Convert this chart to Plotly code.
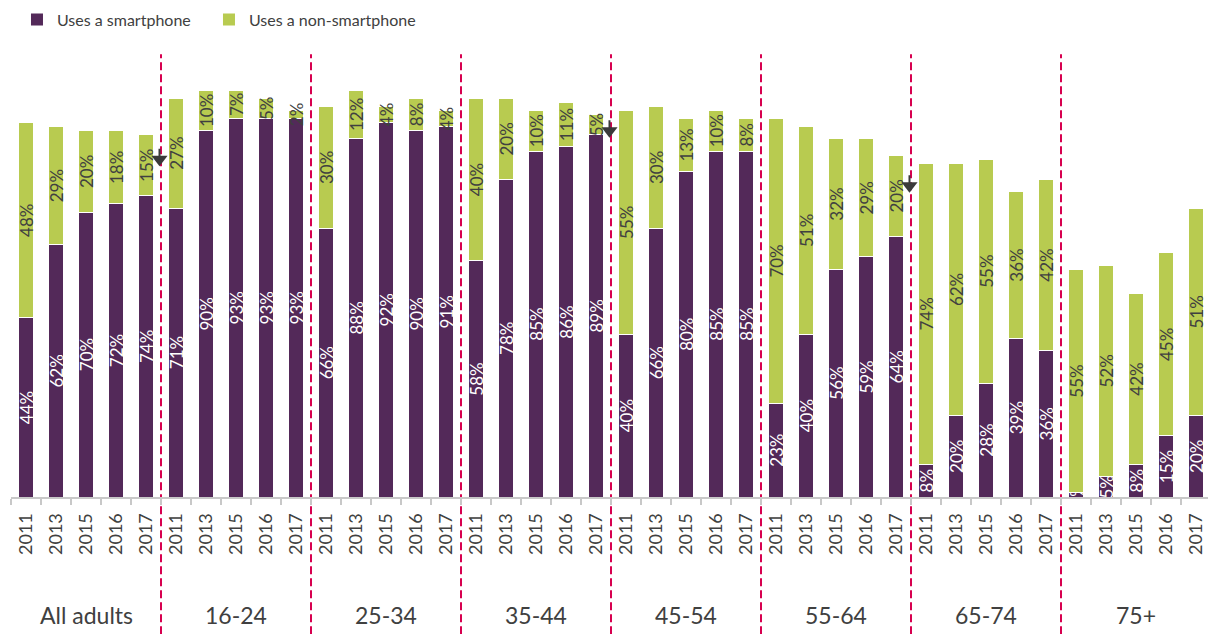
import plotly.graph_objects as go

# -------------------------
# DATA
# -------------------------
groups = ["All adults", "16-24", "25-34", "35-44", "45-54", "55-64", "65-74", "75+"]
years = ["2011", "2013", "2015", "2016", "2017"]

smartphone = [
    44, 62, 70, 72, 74,
    71, 90, 93, 93, 93,
    66, 88, 92, 90, 91,
    58, 78, 85, 86, 89,
    40, 66, 80, 85, 85,
    23, 40, 56, 59, 64,
    8, 20, 28, 39, 36,
    1, 5, 8, 15, 20,
]
non_smartphone = [
    48, 29, 20, 18, 15,
    27, 10, 7, 5, 2,
    30, 12, 4, 8, 4,
    40, 20, 10, 11, 5,
    55, 30, 13, 10, 8,
    70, 51, 32, 29, 20,
    74, 62, 55, 36, 42,
    55, 52, 42, 45, 51,
]

# significant-decrease markers: (group index, level in %)
arrow_groups = [0, 3, 5]
arrow_levels = [83, 90, 76.5]

PURPLE = "#532959"
GREEN = "#B8CB50"
GREY_TEXT = "#404040"
ARROW = "#3A3A3A"
RED = "#D7004F"
FONT = "Lato"

n_years = len(years)
x_pos = list(range(len(groups) * n_years))
tick_text = years * len(groups)

fig = go.Figure()

fig.add_trace(
    go.Bar(
        x=x_pos,
        y=smartphone,
        width=0.47,
        marker=dict(color=PURPLE, line=dict(color="white", width=1)),
        text=[f"{v}%" for v in smartphone],
        textposition="inside",
        insidetextanchor="middle",
        textangle=-90,
        constraintext="none",
        textfont=dict(family=FONT, size=17, color="white"),
        showlegend=False,
        hoverinfo="skip",
    )
)
fig.add_trace(
    go.Bar(
        x=x_pos,
        y=non_smartphone,
        width=0.47,
        marker=dict(color=GREEN, line=dict(color="white", width=1)),
        text=[f"{v}%" for v in non_smartphone],
        textposition="inside",
        insidetextanchor="middle",
        textangle=-90,
        constraintext="none",
        textfont=dict(family=FONT, size=17, color=GREY_TEXT),
        showlegend=False,
        hoverinfo="skip",
    )
)

# down arrows: triangle head + short stem
arrow_x = [g * n_years + n_years - 0.55 for g in arrow_groups]
for ax_, lvl in zip(arrow_x, arrow_levels):
    fig.add_annotation(
        x=ax_, y=lvl, xref="x", yref="y",
        ax=0, ay=-12, text="", showarrow=True,
        arrowhead=0, arrowwidth=2, arrowcolor=ARROW,
    )
fig.add_trace(
    go.Scatter(
        x=arrow_x, y=arrow_levels, mode="markers",
        marker=dict(symbol="triangle-down", size=14, color=ARROW),
        showlegend=False, hoverinfo="skip", cliponaxis=False,
    )
)

# legend-only entries (small square symbols), one legend box each
for name, col, leg in [("Uses a smartphone", PURPLE, "legend"),
                       ("Uses a non-smartphone", GREEN, "legend2")]:
    fig.add_trace(
        go.Scatter(
            x=[None], y=[None], mode="markers", name=name, legend=leg,
            marker=dict(symbol="square", size=7, color=col),
        )
    )

# -------------------------
# GROUP SEPARATORS + LABELS
# -------------------------
for g in range(1, len(groups)):
    xb = g * n_years - 0.5
    fig.add_shape(
        type="line", xref="x", yref="paper", layer="below",
        x0=xb, x1=xb, y0=-0.337, y1=1.088,
        line=dict(color=RED, width=2, dash="8px,4px"),
    )

for g, label in enumerate(groups):
    fig.add_annotation(
        x=g * n_years + (n_years - 1) / 2, y=-0.29,
        xref="x", yref="paper", yanchor="middle",
        text=label, showarrow=False,
        font=dict(family=FONT, size=23, color=GREY_TEXT),
    )

# -------------------------
# LAYOUT
# -------------------------
legend_style = dict(
    orientation="h", y=1.215, xanchor="left", yanchor="top",
    font=dict(family=FONT, size=16, color=GREY_TEXT),
    itemsizing="constant",
)

fig.update_layout(
    barmode="stack",
    width=1208,
    height=634,
    plot_bgcolor="white",
    paper_bgcolor="white",
    margin=dict(l=11, r=0, t=90, b=137),
    font=dict(family=FONT, color=GREY_TEXT),
    legend=dict(x=0.005, **legend_style),
    legend2=dict(x=0.1654, **legend_style),
    xaxis=dict(
        range=[-0.5, 39.4],
        tickmode="array",
        tickvals=x_pos,
        ticktext=tick_text,
        tickangle=-90,
        ticks="",
        ticklabelstandoff=7,
        tickfont=dict(family=FONT, size=18, color=GREY_TEXT),
        showline=True,
        linecolor="#C8C8C8",
        linewidth=2,
        showgrid=False,
        zeroline=False,
        minor=dict(
            tickmode="array",
            tickvals=[i - 0.5 for i in x_pos],
            ticks="outside", ticklen=6, tickcolor="#C8C8C8", tickwidth=2,
            showgrid=False,
        ),
    ),
    yaxis=dict(range=[0, 100], visible=False),
)

# the page body has a default 8px margin; drop it so the figure fills the window
fig.write_html(
    "out.html",
    config={"displayModeBar": False},
    post_script="document.body.style.margin='0';",
)
